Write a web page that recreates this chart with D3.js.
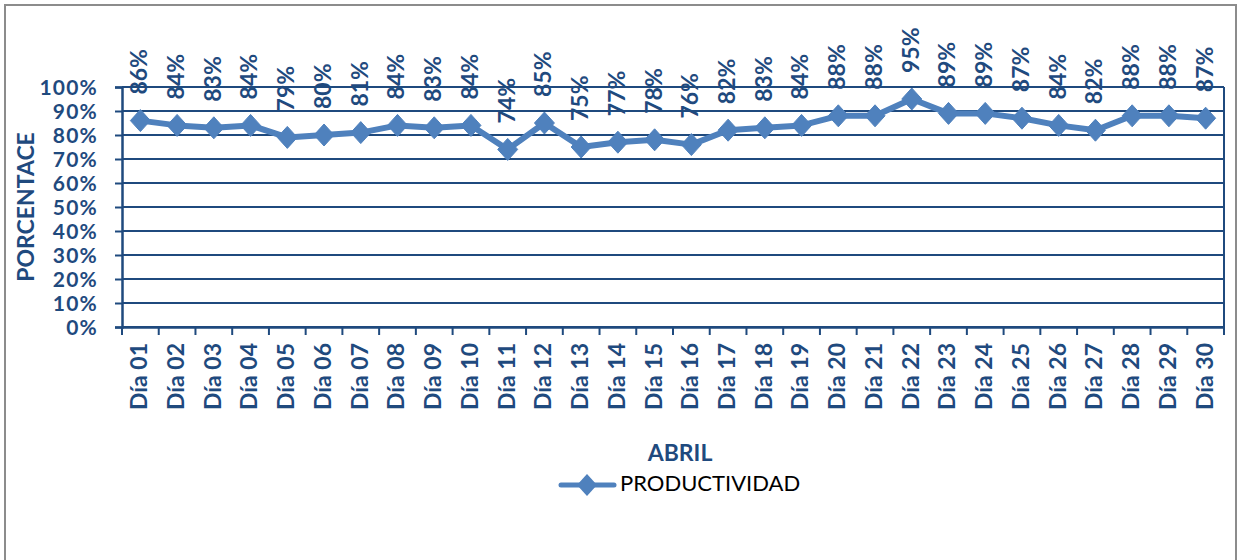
<!DOCTYPE html>
<html>
<head>
<meta charset="utf-8">
<script src="https://cdn.jsdelivr.net/npm/d3@7"></script>
<style>
  html, body { margin: 0; padding: 0; background: #fff; }
  svg { display: block; }
  text { font-family: "Lato", "Open Sans", sans-serif; }
</style>
</head>
<body>
<svg id="chart" width="1238" height="560"></svg>
<script>
// Daily productivity for April
const days = ["Día 01","Día 02","Día 03","Día 04","Día 05","Día 06","Día 07","Día 08","Día 09","Día 10",
              "Día 11","Día 12","Día 13","Día 14","Día 15","Día 16","Día 17","Día 18","Día 19","Día 20",
              "Día 21","Día 22","Día 23","Día 24","Día 25","Día 26","Día 27","Día 28","Día 29","Día 30"];
const productividad = [86,84,83,84,79,80,81,84,83,84,74,85,75,77,78,76,82,83,84,88,88,95,89,89,87,84,82,88,88,87];
const yTicks = [0,10,20,30,40,50,60,70,80,90,100];
const seriesName = "PRODUCTIVIDAD";
const xTitle = "ABRIL";
const yTitle = "PORCENTACE";

const navy = "#1F4A7E";
const lineBlue = "#4F81BD";

const svg = d3.select("#chart");

// outer frame
svg.append("rect").attr("x", 5).attr("y", 5).attr("width", 1231).attr("height", 600)
  .attr("fill", "none").attr("stroke", "#8c8c8c").attr("stroke-width", 2);

const plot = { left: 122, right: 1224, top: 87, bottom: 327 };

const x = d3.scaleBand().domain(days).range([plot.left, plot.right]).padding(0);
const y = d3.scaleLinear().domain([0, 100]).range([plot.bottom, plot.top]);

// horizontal gridlines
svg.append("g").selectAll("line").data(yTicks).join("line")
  .attr("x1", plot.left).attr("x2", plot.right)
  .attr("y1", d => y(d)).attr("y2", d => y(d))
  .attr("stroke", navy).attr("stroke-width", 2);

// right border of the plot area
svg.append("line").attr("x1", plot.right).attr("x2", plot.right)
  .attr("y1", plot.top).attr("y2", plot.bottom)
  .attr("stroke", navy).attr("stroke-width", 2);

// y axis
const yAxis = svg.append("g").attr("transform", `translate(${plot.left},0)`)
  .call(d3.axisLeft(y).tickValues(yTicks).tickSize(7).tickPadding(17).tickFormat(d => d + "%"));
yAxis.select(".domain").attr("stroke", navy).attr("stroke-width", 2.5);
yAxis.selectAll(".tick line").attr("stroke", navy).attr("stroke-width", 2);
yAxis.selectAll(".tick text").attr("fill", navy).attr("font-size", 21).attr("font-weight", 700)
  .attr("letter-spacing", 1.2)
  .attr("font-family", "Lato, sans-serif").attr("dy", "0.36em").attr("x", -24);

// x axis with ticks at category boundaries
const xAxis = svg.append("g").attr("transform", `translate(0,${plot.bottom})`)
  .call(d3.axisBottom(x).tickSize(0).tickPadding(0));
xAxis.select(".domain").attr("stroke", navy).attr("stroke-width", 2.5);
xAxis.selectAll(".tick text")
  .attr("fill", navy).attr("font-size", 23).attr("font-weight", 700)
  .attr("font-family", "Lato, sans-serif")
  .attr("text-anchor", "end").attr("dy", null).attr("y", 0)
  .attr("dominant-baseline", "middle")
  .attr("transform", "translate(1,16) rotate(-90)");
const boundaries = days.map(d => x(d)).concat([plot.right]);
svg.append("g").selectAll("line").data(boundaries).join("line")
  .attr("x1", d => d).attr("x2", d => d)
  .attr("y1", plot.bottom).attr("y2", plot.bottom + 8)
  .attr("stroke", navy).attr("stroke-width", 2);

// series line
const cx = d => x(d) + x.bandwidth() / 2;
const line = d3.line().x((d, i) => cx(days[i])).y(d => y(d));
svg.append("path").datum(productividad)
  .attr("d", line).attr("fill", "none")
  .attr("stroke", lineBlue).attr("stroke-width", 6).attr("stroke-linejoin", "round");

// diamond markers
const diamond = "M0,-11 L10,0 L0,11 L-10,0 Z";
svg.append("g").selectAll("path").data(productividad).join("path")
  .attr("d", diamond)
  .attr("transform", (d, i) => `translate(${cx(days[i])},${y(d)})`)
  .attr("fill", lineBlue).attr("stroke", lineBlue).attr("stroke-width", 1);

// data labels
svg.append("g").selectAll("text").data(productividad).join("text")
  .text(d => d + "%")
  .attr("transform", (d, i) => `translate(${cx(days[i]) + 1},${y(d) - 26}) rotate(-90)`)
  .attr("text-anchor", "start").attr("dominant-baseline", "middle")
  .attr("fill", navy).attr("font-size", 23).attr("font-weight", 700)
  .attr("font-family", "Lato, sans-serif");

// axis titles
svg.append("text").text(yTitle)
  .attr("transform", `translate(28,${(plot.top + plot.bottom) / 2}) rotate(-90)`)
  .attr("text-anchor", "middle").attr("dominant-baseline", "middle")
  .attr("fill", navy).attr("font-size", 23).attr("font-weight", 700);

svg.append("text").text(xTitle)
  .attr("x", 680).attr("y", 455)
  .attr("text-anchor", "middle").attr("dominant-baseline", "middle")
  .attr("fill", navy).attr("font-size", 23).attr("font-weight", 700);

// legend
const lg = svg.append("g").attr("transform", "translate(0,485)");
lg.append("line").attr("x1", 561).attr("x2", 614).attr("y1", 0).attr("y2", 0)
  .attr("stroke", lineBlue).attr("stroke-width", 5).attr("stroke-linecap", "round");
lg.append("path").attr("d", diamond).attr("transform", "translate(587,0)").attr("fill", lineBlue);
lg.append("text").text(seriesName).attr("x", 620).attr("y", 0)
  .attr("dominant-baseline", "middle").attr("fill", "#000").attr("font-size", 22)
  .attr("font-family", "'Open Sans', sans-serif");
</script>
</body>
</html>
